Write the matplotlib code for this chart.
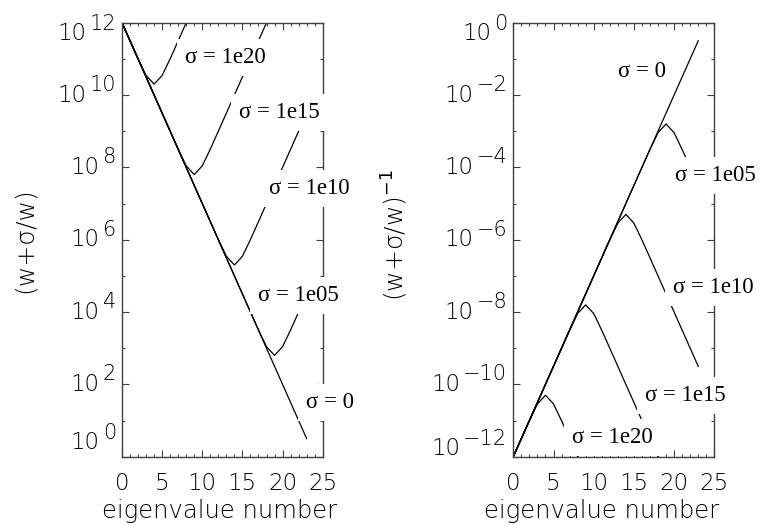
import numpy as np
import matplotlib
matplotlib.use("Agg")
import matplotlib.pyplot as plt
from matplotlib.ticker import FixedLocator, NullFormatter, MultipleLocator

# ---------------- data ----------------
eigen_number = list(range(24))
log10_eigenvalue = [12.0, 11.5, 11.0, 10.5, 10.0, 9.5, 9.0, 8.5, 8.0, 7.5, 7.0, 6.5,
                    6.0, 5.5, 5.0, 4.5, 4.0, 3.5, 3.0, 2.5, 2.0, 1.5, 1.0, 0.5]
sigma_values = [0.0, 1e5, 1e10, 1e15, 1e20]
sigma_labels = ["σ = 0", "σ = 1e05", "σ = 1e10", "σ = 1e15", "σ = 1e20"]
# label anchor positions (x data, log10 y) for each sigma label
left_label_x = [22.9, 16.9, 18.25, 14.6, 7.9]
left_label_logy = [1.5, 4.46, 7.42, 9.53, 11.05]
right_label_x = [13.06, 20.1, 19.9, 16.4, 7.26]
right_label_logy = [-1.36, -4.22, -7.31, -10.31, -11.47]
x_ticks = [0, 5, 10, 15, 20, 25]
left_ytick_exps = [0, 2, 4, 6, 8, 10, 12]
right_ytick_exps = [-12, -10, -8, -6, -4, -2, 0]
x_label = "eigenvalue number"

# ---------------- style ----------------
SANS = ["DejaVu Sans"]
SERIF = ["Liberation Serif", "DejaVu Serif"]
SPINE_C = "#404040"
W, H = 761, 525

fig = plt.figure(figsize=(W / 100, H / 100), dpi=100)

def px_axes(x0, y0, x1, y1):
    return fig.add_axes([x0 / W, 1 - y1 / H, (x1 - x0) / W, (y1 - y0) / H])

axL = px_axes(122, 22.7, 322.7, 456.7)
axR = px_axes(513.3, 22.7, 714.3, 456.7)

w = 10.0 ** np.array(log10_eigenvalue)
n = np.array(eigen_number)

def style_axes(ax, exps, top_shift, bottom_shift):
    ax.set_yscale("log")
    ax.set_xlim(0, 25)
    ax.set_ylim(10.0 ** exps[0], 10.0 ** exps[-1])
    for s in ax.spines.values():
        s.set_color(SPINE_C)
        s.set_linewidth(1.0)
    ax.xaxis.set_major_locator(FixedLocator(x_ticks))
    ax.xaxis.set_minor_locator(MultipleLocator(1))
    major = [10.0 ** e for e in exps]
    minor = [10.0 ** (e + 1) for e in exps[:-1]]
    ax.yaxis.set_major_locator(FixedLocator(major))
    ax.yaxis.set_minor_locator(FixedLocator(minor))
    ax.yaxis.set_major_formatter(NullFormatter())
    ax.yaxis.set_minor_formatter(NullFormatter())
    ax.tick_params(which="both", direction="in", top=True, right=True,
                   color=SPINE_C, width=0.8)
    ax.tick_params(which="major", length=5)
    ax.tick_params(which="minor", length=2.5)
    ax.tick_params(axis="y", which="both", labelleft=False)
    ax.set_xticklabels([str(t) for t in x_ticks], fontsize=16.5,
                       fontfamily=SANS, fontweight="light")
    ax.tick_params(axis="x", which="major", pad=11)
    # y tick labels built as base "10" + large exponent
    for i, e in enumerate(exps):
        shift = 0
        if i == 0:
            shift = bottom_shift
        elif i == len(exps) - 1:
            shift = top_shift
        es = str(e).replace("-", "\u2212")
        et = ax.annotate(es, xy=(0, 10.0 ** e), xycoords=("axes fraction", "data"),
                         xytext=(-6, 10 + shift), textcoords="offset pixels",
                         ha="right", va="center", fontsize=15,
                         fontfamily=SANS, fontweight="light",
                         annotation_clip=False)
        ax.annotate("10", xy=(0, 0.5), xycoords=et, xytext=(-3, -10),
                    textcoords="offset pixels", ha="right", va="center",
                    fontsize=16.5, fontfamily=SANS, fontweight="light",
                    annotation_clip=False)

style_axes(axL, left_ytick_exps, -11, 14)
style_axes(axR, right_ytick_exps, -11, 8)

for k, s in enumerate(sigma_values):
    val = w + s / w
    axL.plot(n, val, color="black", lw=0.9, zorder=2)
    axR.plot(n, 1.0 / val, color="black", lw=0.9, zorder=2)

box = dict(boxstyle="square,pad=0.35", fc="white", ec="none")
for k in range(len(sigma_values)):
    axL.text(left_label_x[k], 10.0 ** left_label_logy[k], sigma_labels[k],
             ha="left", va="center", fontsize=16.5, fontfamily=SERIF,
             bbox=box, zorder=5, clip_on=False)
    axR.text(right_label_x[k], 10.0 ** right_label_logy[k], sigma_labels[k],
             ha="left", va="center", fontsize=16.5, fontfamily=SERIF,
             bbox=box, zorder=5, clip_on=False)

# axis titles
fig.text(220 / W, 1 - 518 / H, x_label, ha="center", va="baseline",
         fontsize=17.5, fontfamily=SANS, fontweight="light")
fig.text(601.5 / W, 1 - 518 / H, x_label, ha="center", va="baseline",
         fontsize=17.5, fontfamily=SANS, fontweight="light")
fig.text(25 / W, 1 - 240 / H, "(w+σ/w)", rotation=90, ha="center", va="center",
         fontsize=18, fontfamily=SANS, fontweight="light")
fig.text(395 / W, 1 - 235 / H, "(w+σ/w)$^{\u22121}$", rotation=90, ha="center",
         va="center", fontsize=18, fontfamily=SANS, fontweight="light")

fig.savefig("out.png", dpi=100)
